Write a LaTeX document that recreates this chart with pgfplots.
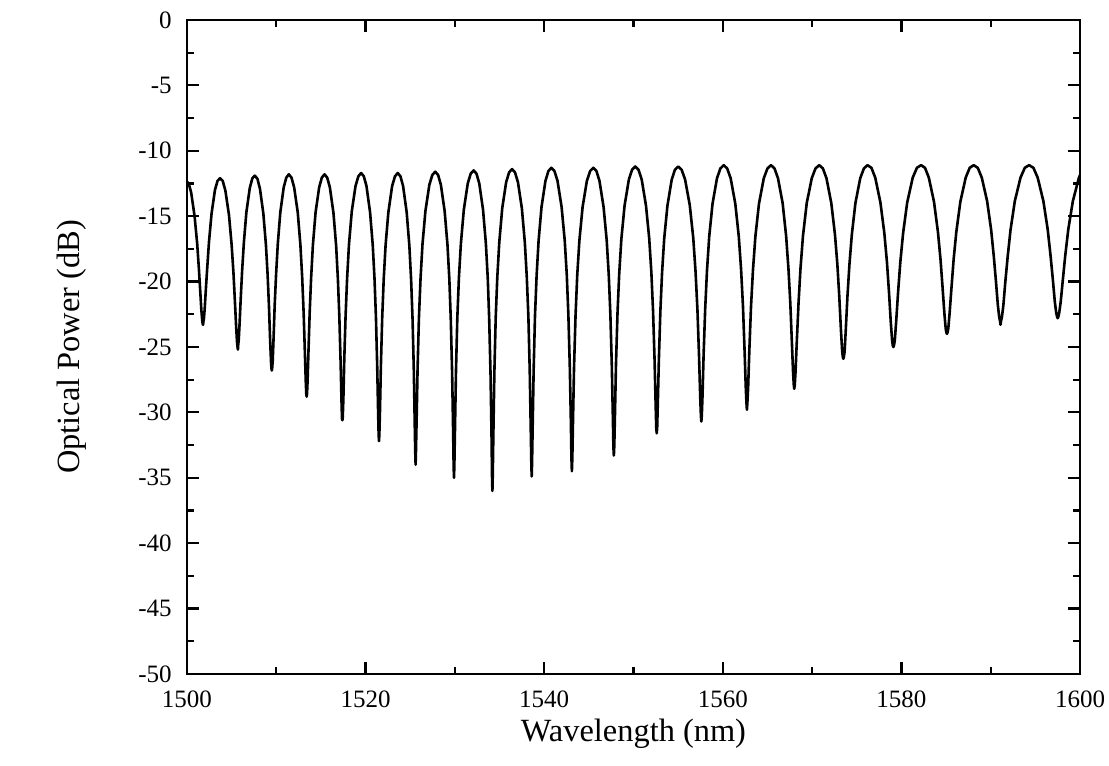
\documentclass[border=0pt]{standalone}
\usepackage{fontspec}
\setmainfont{Liberation Serif}
\usepackage{pgfplots}
\pgfplotsset{compat=1.18}

\begin{document}
\begin{tikzpicture}
\begin{axis}[
  scale only axis,
  width=446.5pt, height=327pt,
  xmin=1500, xmax=1600,
  ymin=-50, ymax=0,
  xtick={1500,1520,...,1600},
  ytick={-50,-45,...,0},
  minor x tick num=1,
  minor y tick num=1,
  tick align=inside,
  tick pos=both,
  major tick length=6pt,
  minor tick length=3.5pt,
  axis line style={line width=1.2pt},
  every tick/.style={black, line width=1.1pt},
  /pgf/number format/assume math mode=true,
  /pgf/number format/1000 sep={},
  tick label style={font=\fontsize{12.5}{14}\selectfont, inner sep=0pt},
  xticklabel style={anchor=base, yshift=-17pt},
  yticklabel style={anchor=east, xshift=-7.5pt},
  label style={font=\fontsize{16.2}{18}\selectfont},
  xlabel={Wavelength (nm)},
  ylabel={Optical Power (dB)},
  xlabel style={at={(axis description cs:0.5,-0.104)}, anchor=base},
  ylabel style={at={(axis description cs:-0.1288,0.5)}, anchor=center},
]
\coordinate (bl) at (rel axis cs:0,0);
\coordinate (tr) at (rel axis cs:1,1);
\addplot[black, line width=1.3pt, line join=round, mark=none] coordinates {
(1499.9,-12.3)
(1500.19,-12.5) (1500.47,-13.2) (1500.85,-15.0) (1501.14,-17.1) (1501.33,-19.0) (1501.48,-20.7) (1501.61,-22.2) (1501.71,-23.0) (1501.76,-23.25)
(1501.8,-23.3)
(1501.84,-23.05) (1501.90,-22.8) (1501.99,-22.0) (1502.12,-20.5) (1502.28,-18.8) (1502.47,-16.9) (1502.75,-14.8) (1503.13,-13.0) (1503.42,-12.3) (1503.7,-12.1)
(1504.0,-12.3) (1504.3,-13.05) (1504.7,-14.9) (1505.0,-17.2) (1505.2,-19.3) (1505.36,-21.45) (1505.5,-23.4) (1505.6,-24.6) (1505.66,-25.0)
(1505.7,-25.2)
(1505.74,-24.8) (1505.80,-24.4) (1505.89,-23.2) (1506.02,-21.25) (1506.18,-19.1) (1506.37,-17.0) (1506.65,-14.7) (1507.03,-12.85) (1507.32,-12.1) (1507.6,-11.9)
(1507.89,-12.15) (1508.17,-12.9) (1508.55,-14.8) (1508.84,-17.2) (1509.03,-19.5) (1509.18,-21.9) (1509.31,-24.5) (1509.41,-26.15) (1509.46,-26.65)
(1509.5,-26.8)
(1509.54,-26.6) (1509.60,-26.05) (1509.69,-24.4) (1509.82,-21.8) (1509.98,-19.4) (1510.17,-17.1) (1510.45,-14.7) (1510.83,-12.8) (1511.12,-12.05) (1511.4,-11.8)
(1511.7,-12.05) (1512.0,-12.8) (1512.4,-14.7) (1512.7,-17.2) (1512.9,-19.7) (1513.06,-22.35) (1513.2,-25.4) (1513.3,-27.65) (1513.36,-28.6)
(1513.4,-28.8)
(1513.44,-28.6) (1513.5,-27.65) (1513.6,-25.4) (1513.74,-22.35) (1513.9,-19.7) (1514.1,-17.2) (1514.4,-14.7) (1514.8,-12.8) (1515.1,-12.05) (1515.4,-11.8)
(1515.7,-12.05) (1516.0,-12.8) (1516.4,-14.75) (1516.7,-17.25) (1516.9,-19.85) (1517.06,-22.7) (1517.2,-26.1) (1517.3,-29.1) (1517.36,-30.5)
(1517.4,-30.6)
(1517.44,-30.4) (1517.51,-29.0) (1517.61,-26.0) (1517.76,-22.6) (1517.93,-19.75) (1518.14,-17.15) (1518.45,-14.65) (1518.87,-12.7) (1519.19,-11.95) (1519.5,-11.7)
(1519.8,-11.95) (1520.1,-12.7) (1520.5,-14.7) (1520.8,-17.2) (1521.0,-19.8) (1521.16,-22.75) (1521.3,-26.5) (1521.4,-29.9) (1521.46,-31.7)
(1521.5,-32.2)
(1521.54,-31.7) (1521.61,-29.9) (1521.71,-26.5) (1521.86,-22.75) (1522.03,-19.8) (1522.24,-17.2) (1522.55,-14.7) (1522.97,-12.7) (1523.29,-11.95) (1523.6,-11.7)
(1523.9,-11.95) (1524.2,-12.7) (1524.6,-14.7) (1524.9,-17.25) (1525.1,-19.9) (1525.26,-22.9) (1525.4,-26.8) (1525.5,-30.8) (1525.56,-33.05)
(1525.6,-34.0)
(1525.64,-32.95) (1525.71,-30.7) (1525.82,-26.7) (1525.97,-22.8) (1526.15,-19.8) (1526.37,-17.15) (1526.7,-14.6) (1527.14,-12.6) (1527.47,-11.85) (1527.8,-11.6)
(1528.12,-11.85) (1528.43,-12.6) (1528.85,-14.6) (1529.17,-17.2) (1529.38,-19.85) (1529.54,-22.9) (1529.69,-27.0) (1529.80,-31.35) (1529.86,-34.15)
(1529.9,-35.0)
(1529.94,-34.05) (1530.01,-31.25) (1530.12,-26.9) (1530.27,-22.8) (1530.45,-19.7) (1530.67,-17.1) (1531.0,-14.5) (1531.44,-12.5) (1531.77,-11.75) (1532.1,-11.5)
(1532.42,-11.75) (1532.73,-12.5) (1533.15,-14.5) (1533.47,-17.1) (1533.68,-19.75) (1533.84,-22.85) (1533.99,-27.05) (1534.10,-31.65) (1534.16,-34.95)
(1534.2,-36.0)
(1534.24,-34.85) (1534.31,-31.55) (1534.42,-26.95) (1534.57,-22.75) (1534.75,-19.65) (1534.97,-17.0) (1535.3,-14.4) (1535.74,-12.4) (1536.07,-11.65) (1536.4,-11.4)
(1536.73,-11.65) (1537.06,-12.4) (1537.5,-14.4) (1537.83,-17.0) (1538.05,-19.65) (1538.23,-22.7) (1538.38,-26.8) (1538.49,-31.15) (1538.56,-33.95)
(1538.6,-34.9)
(1538.64,-33.85) (1538.71,-31.05) (1538.82,-26.7) (1538.97,-22.6) (1539.15,-19.55) (1539.37,-16.9) (1539.7,-14.3) (1540.14,-12.3) (1540.47,-11.55) (1540.8,-11.3)
(1541.15,-11.55) (1541.49,-12.3) (1541.95,-14.3) (1542.30,-16.87) (1542.53,-19.5) (1542.71,-22.6) (1542.87,-26.6) (1542.99,-30.85) (1543.05,-33.5)
(1543.1,-34.5)
(1543.15,-33.5) (1543.22,-30.85) (1543.34,-26.6) (1543.51,-22.6) (1543.7,-19.5) (1543.94,-16.87) (1544.3,-14.3) (1544.78,-12.3) (1545.14,-11.55) (1545.5,-11.3)
(1545.85,-11.55) (1546.19,-12.3) (1546.65,-14.3) (1547.0,-16.85) (1547.23,-19.5) (1547.41,-22.5) (1547.57,-26.4) (1547.69,-30.4) (1547.75,-32.65)
(1547.8,-33.3)
(1547.85,-32.55) (1547.92,-30.3) (1548.04,-26.3) (1548.21,-22.4) (1548.4,-19.4) (1548.64,-16.75) (1549.0,-14.2) (1549.48,-12.2) (1549.84,-11.45) (1550.2,-11.2)
(1550.56,-11.45) (1550.92,-12.2) (1551.4,-14.2) (1551.76,-16.7) (1552.0,-19.3) (1552.19,-22.25) (1552.36,-26.0) (1552.48,-29.4) (1552.55,-31.2)
(1552.6,-31.6)
(1552.65,-31.2) (1552.72,-29.4) (1552.84,-26.0) (1553.01,-22.25) (1553.2,-19.3) (1553.44,-16.7) (1553.8,-14.2) (1554.28,-12.2) (1554.64,-11.45) (1555.0,-11.2)
(1555.39,-11.45) (1555.78,-12.2) (1556.3,-14.15) (1556.69,-16.65) (1556.95,-19.25) (1557.16,-22.15) (1557.34,-25.7) (1557.47,-28.8) (1557.55,-30.3)
(1557.6,-30.7)
(1557.65,-30.2) (1557.73,-28.7) (1557.85,-25.6) (1558.03,-22.05) (1558.23,-19.15) (1558.48,-16.55) (1558.85,-14.05) (1559.35,-12.1) (1559.73,-11.35) (1560.1,-11.1)
(1560.49,-11.35) (1560.88,-12.1) (1561.4,-14.05) (1561.79,-16.55) (1562.05,-19.1) (1562.26,-21.9) (1562.44,-25.3) (1562.57,-28.05) (1562.65,-29.3)
(1562.7,-29.8)
(1562.75,-29.3) (1562.84,-28.05) (1562.97,-25.3) (1563.16,-21.9) (1563.38,-19.1) (1563.65,-16.55) (1564.05,-14.05) (1564.59,-12.1) (1565.0,-11.35) (1565.4,-11.1)
(1565.79,-11.35) (1566.18,-12.1) (1566.7,-14.0) (1567.09,-16.5) (1567.35,-19.0) (1567.56,-21.65) (1567.74,-24.7) (1567.87,-26.95) (1567.95,-27.9)
(1568.0,-28.2)
(1568.06,-27.9) (1568.14,-26.95) (1568.28,-24.7) (1568.48,-21.65) (1568.7,-19.0) (1568.98,-16.5) (1569.4,-14.0) (1569.96,-12.1) (1570.38,-11.35) (1570.8,-11.1)
(1571.21,-11.35) (1571.61,-12.1) (1572.15,-14.0) (1572.56,-16.4) (1572.83,-18.7) (1573.04,-21.1) (1573.23,-23.7) (1573.37,-25.35) (1573.45,-25.8)
(1573.5,-25.9)
(1573.55,-25.8) (1573.64,-25.35) (1573.77,-23.7) (1573.96,-21.1) (1574.18,-18.7) (1574.45,-16.4) (1574.85,-14.0) (1575.39,-12.1) (1575.8,-11.35) (1576.2,-11.1)
(1576.64,-11.3) (1577.07,-12.05) (1577.65,-13.95) (1578.09,-16.3) (1578.38,-18.5) (1578.61,-20.8) (1578.81,-23.1) (1578.96,-24.5) (1579.04,-24.9)
(1579.1,-25.0)
(1579.16,-24.9) (1579.26,-24.5) (1579.41,-23.1) (1579.63,-20.8) (1579.88,-18.5) (1580.19,-16.3) (1580.65,-13.95) (1581.27,-12.05) (1581.74,-11.3) (1582.2,-11.1)
(1582.64,-11.3) (1583.07,-12.05) (1583.65,-13.9) (1584.09,-16.2) (1584.38,-18.3) (1584.61,-20.45) (1584.81,-22.4) (1584.96,-23.6) (1585.04,-23.9)
(1585.1,-24.0)
(1585.16,-23.9) (1585.25,-23.6) (1585.4,-22.4) (1585.61,-20.45) (1585.85,-18.3) (1586.15,-16.2) (1586.6,-13.9) (1587.2,-12.05) (1587.65,-11.3) (1588.1,-11.1)
(1588.55,-11.3) (1589.0,-12.05) (1589.6,-13.85) (1590.05,-16.05) (1590.35,-18.1) (1590.59,-20.0) (1590.8,-21.8) (1590.95,-22.7) (1591.04,-23.0)
(1591.1,-23.3)
(1591.16,-23.0) (1591.26,-22.7) (1591.42,-21.8) (1591.64,-20.0) (1591.9,-18.1) (1592.22,-16.05) (1592.7,-13.85) (1593.34,-12.05) (1593.82,-11.3) (1594.3,-11.1)
(1594.78,-11.3) (1595.26,-12.05) (1595.9,-13.85) (1596.38,-16.0) (1596.7,-18.0) (1596.96,-19.85) (1597.18,-21.55) (1597.34,-22.4) (1597.44,-22.7)
(1597.5,-22.8)
(1597.57,-22.7) (1597.67,-22.4) (1597.84,-21.55) (1598.08,-19.85) (1598.35,-18.0) (1598.69,-16.0) (1599.2,-13.85) (1599.88,-12.05) (1600.39,-11.3) (1600.9,-11.1)
};
\end{axis}
\pgfresetboundingbox
\path[use as bounding box] ([shift={(-93.5pt,-46pt)}]bl) rectangle ([shift={(14.5pt,10pt)}]tr);
\end{tikzpicture}
\end{document}
